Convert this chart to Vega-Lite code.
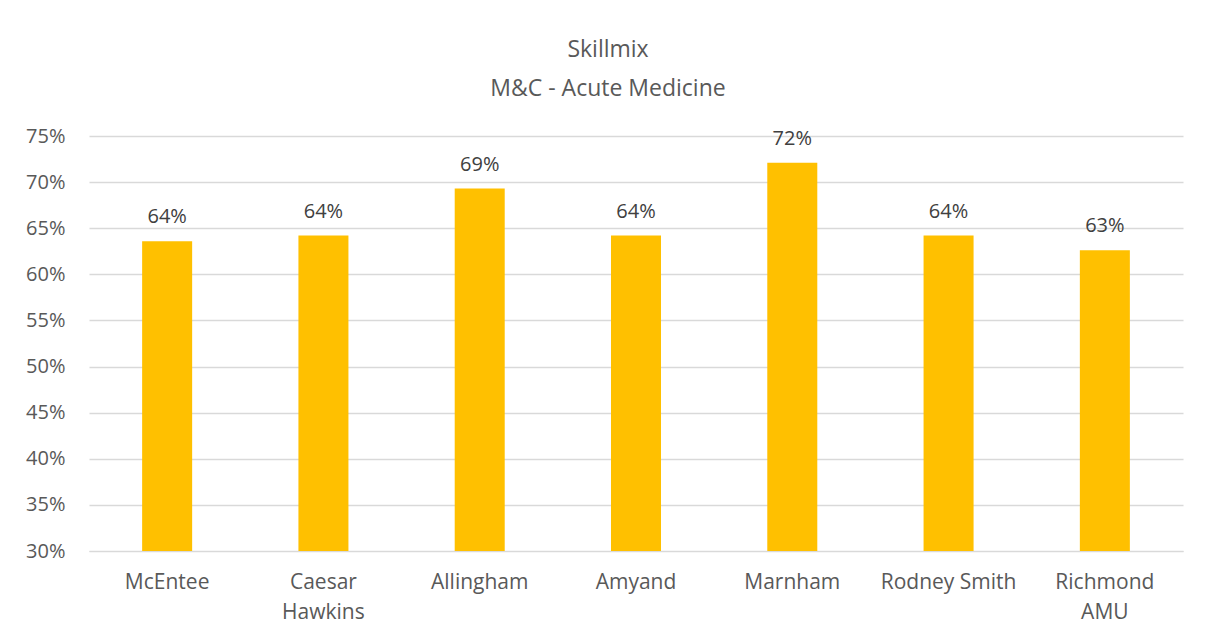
{
  "$schema": "https://vega.github.io/schema/vega-lite/v6.json",
  "width": 1094,
  "height": 415,
  "autosize": {"type": "none"},
  "padding": {"left": 89, "top": 136, "right": 22, "bottom": 86},
  "background": "white",
  "title": {
    "text": ["Skillmix", "M&C - Acute Medicine"],
    "font": "Open Sans",
    "fontSize": 23,
    "fontWeight": "normal",
    "color": "#595959",
    "lineHeight": 39,
    "anchor": "middle",
    "dx": -28,
    "offset": 25
  },
  "data": {
    "values": [
      {"ward": "McEntee", "value": 0.636},
      {"ward": "Caesar Hawkins", "value": 0.642},
      {"ward": "Allingham", "value": 0.693},
      {"ward": "Amyand", "value": 0.642},
      {"ward": "Marnham", "value": 0.721},
      {"ward": "Rodney Smith", "value": 0.642},
      {"ward": "Richmond AMU", "value": 0.626}
    ]
  },
  "encoding": {
    "x": {
      "field": "ward",
      "type": "nominal",
      "sort": null,
      "scale": {"paddingInner": 0.68, "paddingOuter": 0.34},
      "axis": {
        "title": null,
        "labelAngle": 0,
        "labelFont": "Open Sans",
        "labelFontSize": 21,
        "labelColor": "#595959",
        "labelPadding": 20,
        "labelLineHeight": 30,
        "labelBaseline": "top",
        "ticks": false,
        "domain": true,
        "domainColor": "#d9d9d9",
        "labelExpr": "datum.label == 'Caesar Hawkins' ? ['Caesar', 'Hawkins'] : datum.label == 'Richmond AMU' ? ['Richmond', 'AMU'] : datum.label"
      }
    },
    "y": {
      "field": "value",
      "type": "quantitative",
      "scale": {"domain": [0.3, 0.75], "clamp": true},
      "axis": {
        "title": null,
        "format": ".0%",
        "values": [0.3, 0.35, 0.4, 0.45, 0.5, 0.55, 0.6, 0.65, 0.7, 0.75],
        "labelFont": "Open Sans",
        "labelFontSize": 20,
        "labelColor": "#595959",
        "labelPadding": 24,
        "ticks": false,
        "domain": false,
        "gridColor": "#d9d9d9",
        "gridWidth": 1.3
      }
    }
  },
  "layer": [
    {"mark": {"type": "bar", "color": "#ffc000"}},
    {
      "mark": {"type": "text", "dy": -18, "baseline": "alphabetic", "font": "Open Sans", "fontSize": 20, "color": "#404040"},
      "encoding": {"text": {"field": "value", "type": "quantitative", "format": ".0%"}}
    }
  ],
  "config": {"view": {"stroke": null}}
}
